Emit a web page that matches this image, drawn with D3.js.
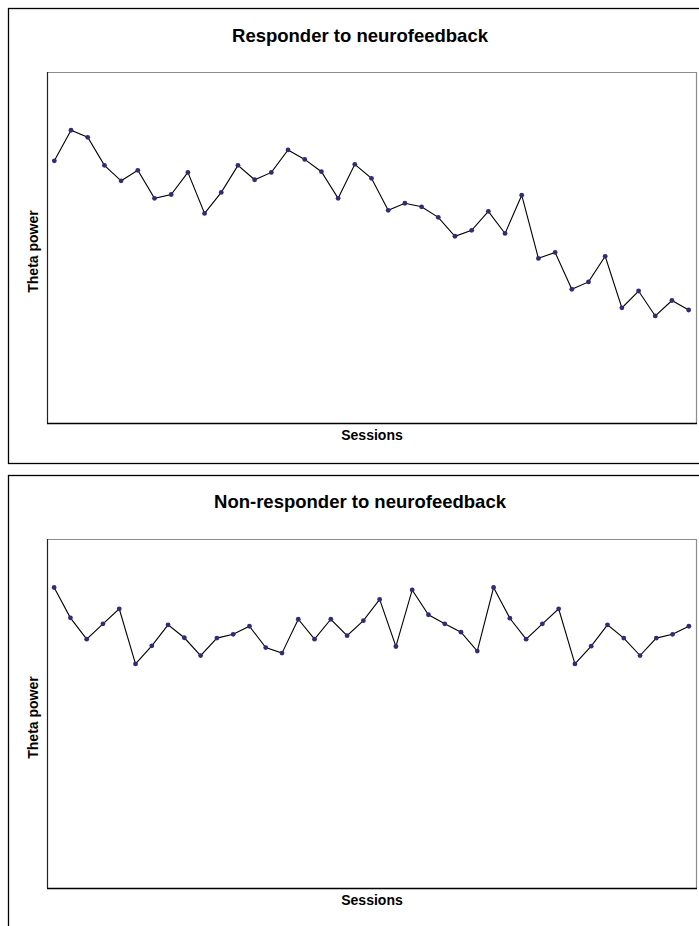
<!DOCTYPE html>
<html>
<head>
<meta charset="utf-8">
<script src="https://cdn.jsdelivr.net/npm/d3@7"></script>
<style>
  html, body { margin: 0; padding: 0; background: #fff; }
  svg { display: block; }
  text { font-family: "Liberation Sans", Arial, Helvetica, sans-serif; font-weight: bold; fill: #000; }
</style>
</head>
<body>
<svg id="chart" width="699" height="926"></svg>
<script>
// Theta power per neurofeedback session (relative units, 0–100)
const responderTitle = "Responder to neurofeedback";
const responderTheta = [
  74.7, 83.4, 81.4, 73.4, 69.0, 72.0, 64.0, 65.1, 71.4, 59.7,
  65.7, 73.4, 69.3, 71.4, 77.8, 75.1, 71.6, 64.0, 73.7, 69.7,
  60.6, 62.6, 61.6, 58.6, 53.2, 54.9, 60.3, 54.0, 64.9, 46.9,
  48.6, 38.1, 40.2, 47.5, 32.8, 37.6, 30.5, 34.9, 32.2
];

const nonResponderTitle = "Non-responder to neurofeedback";
const nonResponderTheta = [
  86.1, 77.4, 71.3, 75.7, 80.0, 64.2, 69.4, 75.4, 71.7, 66.6,
  71.6, 72.7, 75.0, 68.9, 67.3, 77.0, 71.3, 77.0, 72.3, 76.6,
  82.7, 69.2, 85.4, 78.3, 75.7, 73.3, 67.9, 86.1, 77.3, 71.3,
  75.7, 80.0, 64.2, 69.3, 75.4, 71.6, 66.6, 71.6, 72.7, 75.0
];

const xAxisLabel = "Sessions";
const yAxisLabel = "Theta power";
const yDomain = [0, 100];

const svg = d3.select("#chart");

function drawPanel(cfg) {
  const { title, values, frameTop, plotTop, plotBottom } = cfg;
  const plotLeft = 47, plotRight = 697;
  const sessions = values.map((_, i) => i + 1);

  const g = svg.append("g");

  // outer panel frame (runs past the right/bottom edge of the page)
  g.append("rect")
    .attr("x", 8.5).attr("y", frameTop + 0.5)
    .attr("width", 720).attr("height", cfg.frameHeight)
    .attr("fill", "none").attr("stroke", "#000").attr("stroke-width", 1.3);

  const x = d3.scalePoint().domain(sessions).range([plotLeft - 1, plotRight]).padding(0.5);
  const y = d3.scaleLinear().domain(yDomain).range([plotBottom, plotTop]);

  // plot area: grey top/right border
  g.append("path")
    .attr("d", `M${plotLeft},${plotTop + 0.5}H${plotRight - 0.5}V${plotBottom}`)
    .attr("fill", "none").attr("stroke", "#8c8c8c").attr("stroke-width", 1.2);

  // axes without ticks (black left and bottom lines)
  const xAxis = d3.axisBottom(x).tickSize(0).tickFormat("").tickSizeOuter(0);
  const yAxis = d3.axisLeft(y).tickSize(0).tickFormat("").tickSizeOuter(0);
  const gx = g.append("g").attr("transform", `translate(0,${plotBottom})`).call(xAxis);
  gx.select(".domain").attr("d", `M${plotLeft},0.5H${plotRight}`).attr("stroke", "#000").attr("stroke-width", 1.6);
  const gy = g.append("g").attr("transform", `translate(${plotLeft + 0.5},0)`).call(yAxis);
  gy.select(".domain").attr("d", `M0,${plotTop}V${plotBottom}`).attr("stroke", "#222").attr("stroke-width", 1.2);

  // series line
  const line = d3.line().x((d, i) => x(sessions[i])).y(d => y(d));
  g.append("path")
    .datum(values)
    .attr("d", line)
    .attr("fill", "none").attr("stroke", "#000").attr("stroke-width", 1.1);

  // session markers
  g.selectAll("circle.pt").data(values).join("circle")
    .attr("class", "pt")
    .attr("cx", (d, i) => x(sessions[i]))
    .attr("cy", d => y(d))
    .attr("r", 2.4)
    .attr("fill", "#2f2d78");

  // titles
  g.append("text")
    .attr("x", 360).attr("y", cfg.titleBaseline)
    .attr("text-anchor", "middle").attr("font-size", 18.5)
    .text(title);

  g.append("text")
    .attr("x", (plotLeft + plotRight) / 2).attr("y", plotBottom + 17)
    .attr("text-anchor", "middle").attr("font-size", 14)
    .text(xAxisLabel);

  g.append("text")
    .attr("transform", `translate(38,${(plotTop + plotBottom) / 2 + 4}) rotate(-90)`)
    .attr("text-anchor", "middle").attr("font-size", 14)
    .text(yAxisLabel);
}

drawPanel({
  title: responderTitle, values: responderTheta,
  frameTop: 8, frameHeight: 455, plotTop: 72, plotBottom: 423, titleBaseline: 41.7
});

drawPanel({
  title: nonResponderTitle, values: nonResponderTheta,
  frameTop: 475, frameHeight: 600, plotTop: 539, plotBottom: 888, titleBaseline: 508.3
});
</script>
</body>
</html>
